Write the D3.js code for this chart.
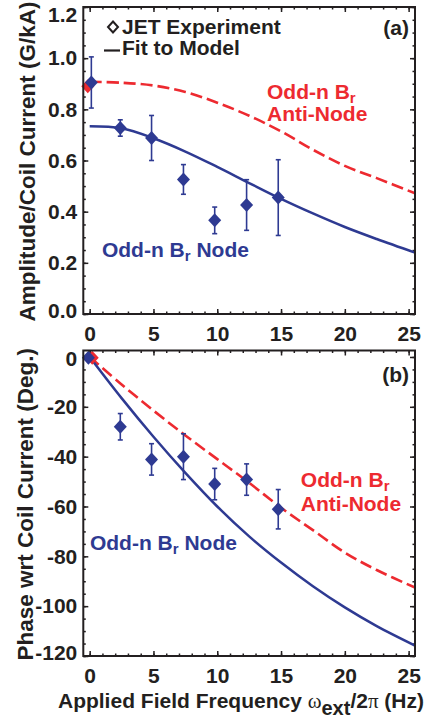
<!DOCTYPE html>
<html>
<head>
<meta charset="utf-8">
<script src="https://cdn.jsdelivr.net/npm/d3@7"></script>
<style>
  html, body { margin: 0; padding: 0; background: #fff; }
  svg text { font-family: "Liberation Sans", Arial, Helvetica, sans-serif; font-weight: bold; fill: #231f20; }
</style>
</head>
<body>
<svg id="chart" width="430" height="718"></svg>
<script>
var ampFreq = [0.13, 2.4, 4.85, 7.35, 9.8, 12.3, 14.78];
var ampNode = [0.905, 0.727, 0.688, 0.526, 0.366, 0.426, 0.455];
var ampNodeErr = [0.100, 0.032, 0.088, 0.058, 0.052, 0.099, 0.148];
var ampAntiFreq = [-0.15];
var ampAnti = [0.89];

var phaseFreq = [-0.1, 2.4, 4.85, 7.35, 9.8, 12.3, 14.78];
var phaseNode = [-0.3, -28.0, -41.1, -40.0, -51.0, -49.2, -61.1];
var phaseNodeErr = [0, 5.3, 6.3, 9.2, 6.3, 6.3, 7.9];
var phaseAntiFreq = [0.2];
var phaseAnti = [-0.3];

// model fits
var fitFreq = [0, 2.5, 5, 7.5, 10, 12.5, 15, 17.5, 20, 22.5, 25.5];
var ampNodeFit = [0.734, 0.726, 0.687, 0.635, 0.575, 0.512, 0.450, 0.393, 0.340, 0.293, 0.240];
var ampAntiFit = [0.908, 0.904, 0.893, 0.868, 0.826, 0.775, 0.714, 0.642, 0.579, 0.531, 0.472];
var phaseNodeFit = [0, -16.5, -32, -46.5, -60, -72, -82.5, -92, -100.5, -108, -115.8];
var phaseAntiFit = [0, -11, -21.5, -31.5, -41, -50.5, -60.5, -69.5, -78.5, -85.5, -92.5];

var xTicks = [0, 5, 10, 15, 20, 25];
var ampTicks = [0, 0.2, 0.4, 0.6, 0.8, 1.0, 1.2];
var phaseTicks = [0, -20, -40, -60, -80, -100, -120];

var BLUE = '#2e3a92',
    RED = '#ed2a30',
    INK = '#231f20';

var svg = d3.select('#chart');

var x = d3.scaleLinear().domain([-0.5, 25.5]).range([83.3, 415]);
var yAmp = d3.scaleLinear().domain([0, 1.2]).range([314, 7]);
var yPhase = d3.scaleLinear().domain([-120, 2.6]).range([656, 350.5]);

function diamond(hw, hh) {
  return `M0,${-hh}L${hw},0L0,${hh}L${-hw},0Z`;
}

function label(g, px, py, color, parts, anchor, size) {
  var t = g.append('text')
    .attr('x', px)
    .attr('y', py)
    .attr('text-anchor', anchor || 'start')
    .style('font-size', size || '21px')
    .style('fill', color);
  parts.forEach(function (p) {
    var span = t.append('tspan').text(p.t);
    if (p.sub) span.attr('dy', p.sub).style('font-size', p.size || '15px');
    if (p.up) span.attr('dy', -p.up).style('font-size', p.size || '21px');
    if (p.serif) span.style('font-family', '"Liberation Serif", "DejaVu Serif", serif').style('font-weight', 'normal');
  });
  return t;
}

function drawPanel(cfg) {
  var y = cfg.y,
      bottom = y.range()[0],
      top = y.range()[1],
      left = x.range()[0],
      right = x.range()[1],
      g = svg.append('g');

  // minor ticks on all four sides
  var minorX = d3.range(0, 25.01, 1),
      minorY = cfg.minor;
  g.append('g').attr('transform', `translate(0,${bottom})`)
    .call(d3.axisBottom(x).tickValues(minorX).tickSize(-2.5).tickFormat(''));
  g.append('g').attr('transform', `translate(0,${top})`)
    .call(d3.axisTop(x).tickValues(minorX).tickSize(-2.5).tickFormat(''));
  g.append('g').attr('transform', `translate(${left},0)`)
    .call(d3.axisLeft(y).tickValues(minorY).tickSize(-2.5).tickFormat(''));
  g.append('g').attr('transform', `translate(${right},0)`)
    .call(d3.axisRight(y).tickValues(minorY).tickSize(-2.5).tickFormat(''));

  // major ticks + labels
  g.append('g').attr('transform', `translate(0,${bottom})`)
    .call(d3.axisBottom(x).tickValues(xTicks).tickSize(-5).tickPadding(12).tickFormat(d => String(d)));
  g.append('g').attr('transform', `translate(0,${top})`)
    .call(d3.axisTop(x).tickValues(xTicks).tickSize(-5).tickFormat(''));
  var yAxis = g.append('g').attr('transform', `translate(${left},0)`)
    .call(d3.axisLeft(y).tickValues(cfg.ticks).tickSize(-5).tickPadding(6).tickFormat(cfg.fmt));
  g.append('g').attr('transform', `translate(${right},0)`)
    .call(d3.axisRight(y).tickValues(cfg.ticks).tickSize(-5).tickFormat(''));

  // keep edge labels inside the frame height
  yAxis.selectAll('.tick text').attr('y', function (d) {
    var ty = y(d);
    return Math.min(Math.max(ty, top + 8), bottom - 3) - ty;
  });

  g.selectAll('.domain').remove();
  g.selectAll('.tick line').attr('stroke', INK).attr('stroke-width', 1.5);
  g.selectAll('.tick text').style('font-size', '21px').style('fill', INK)
    .attr('font-family', null).attr('font-size', null);

  // curves
  var line = d3.line()
    .x((d, i) => x(fitFreq[i]))
    .y(d => y(d))
    .curve(d3.curveCatmullRom.alpha(0.5));
  g.append('path')
    .attr('d', line(cfg.antiFit))
    .attr('fill', 'none')
    .attr('stroke', RED)
    .attr('stroke-width', 2.6)
    .attr('stroke-dasharray', '12,5');
  g.append('path')
    .attr('d', line(cfg.nodeFit))
    .attr('fill', 'none')
    .attr('stroke', BLUE)
    .attr('stroke-width', 2.5);

  // anti-node point at zero frequency
  g.selectAll('path.anti-pt').data(cfg.anti).enter().append('path')
    .classed('anti-pt', true)
    .attr('d', diamond(6.5, 7))
    .attr('transform', (d, i) => `translate(${x(cfg.antiFreq[i])},${y(d)})`)
    .attr('fill', RED);

  // error bars
  var bars = g.selectAll('g.err').data(cfg.node).enter().append('g')
    .classed('err', true)
    .attr('stroke', BLUE)
    .attr('stroke-width', 1.6);
  bars.append('line')
    .attr('x1', (d, i) => x(cfg.freq[i]))
    .attr('x2', (d, i) => x(cfg.freq[i]))
    .attr('y1', (d, i) => y(d - cfg.err[i]))
    .attr('y2', (d, i) => y(d + cfg.err[i]));
  [-1, 1].forEach(function (s) {
    bars.filter((d, i) => cfg.err[i] > 0).append('line')
      .attr('x1', function (d) { var i = cfg.node.indexOf(d); return x(cfg.freq[i]) - 2.5; })
      .attr('x2', function (d) { var i = cfg.node.indexOf(d); return x(cfg.freq[i]) + 2.5; })
      .attr('y1', function (d) { var i = cfg.node.indexOf(d); return y(d + s * cfg.err[i]); })
      .attr('y2', function (d) { var i = cfg.node.indexOf(d); return y(d + s * cfg.err[i]); });
  });

  g.selectAll('path.node-pt').data(cfg.node).enter().append('path')
    .classed('node-pt', true)
    .attr('d', diamond(6.5, 7))
    .attr('transform', (d, i) => `translate(${x(cfg.freq[i])},${y(d)})`)
    .attr('fill', BLUE);

  // frame
  g.append('rect')
    .attr('x', left)
    .attr('y', top)
    .attr('width', right - left)
    .attr('height', bottom - top)
    .attr('fill', 'none')
    .attr('stroke', INK)
    .attr('stroke-width', 2);

  // annotations
  label(g, x(cfg.antiLbl[0]), y(cfg.antiLbl[1]), RED,
    [{t: 'Odd-n B'}, {t: 'r', sub: 4}]);
  label(g, x(cfg.antiLbl[0]), y(cfg.antiLbl[2]), RED, [{t: 'Anti-Node'}]);
  label(g, x(cfg.nodeLbl[0]), y(cfg.nodeLbl[1]), BLUE,
    [{t: 'Odd-n B'}, {t: 'r', sub: 4}, {t: ' Node', up: 4}]);
  label(g, right - 6, top + cfg.tagDy, INK, [{t: cfg.tag}], 'end');

  // y title
  g.append('text')
    .attr('transform', `translate(${cfg.titleX},${(top + bottom) / 2 + 1}) rotate(-90)`)
    .attr('text-anchor', 'middle')
    .style('font-size', '22.5px')
    .text(cfg.title);
  return g;
}

var topPanel = drawPanel({
  y: yAmp,
  ticks: ampTicks,
  minor: d3.range(0, 1.2001, 0.05),
  fmt: d => d.toFixed(1),
  freq: ampFreq, node: ampNode, err: ampNodeErr,
  antiFreq: ampAntiFreq, anti: ampAnti,
  nodeFit: ampNodeFit, antiFit: ampAntiFit,
  antiLbl: [13.9, 0.839, 0.756],
  nodeLbl: [0.96, 0.224],
  tag: '(a)', tagDy: 28,
  title: 'Amplitude/Coil Current (G/kA)', titleX: 35
});

drawPanel({
  y: yPhase,
  ticks: phaseTicks,
  minor: d3.range(-120, 0.01, 5),
  fmt: d => String(d),
  freq: phaseFreq, node: phaseNode, err: phaseNodeErr,
  antiFreq: phaseAntiFreq, anti: phaseAnti,
  nodeFit: phaseNodeFit, antiFit: phaseAntiFit,
  antiLbl: [16.55, -52.0, -61.7],
  nodeLbl: [0.02, -77.5],
  tag: '(b)', tagDy: 31,
  title: 'Phase wrt Coil Current (Deg.)', titleX: 33
});

// legend
var legend = topPanel.append('g').classed('legend', true);
legend.append('path')
  .attr('d', diamond(5, 5.5))
  .attr('transform', 'translate(113,27)')
  .attr('fill', 'none')
  .attr('stroke', INK)
  .attr('stroke-width', 2);
legend.append('line')
  .attr('x1', 104).attr('x2', 120)
  .attr('y1', 50.5).attr('y2', 50.5)
  .attr('stroke', INK)
  .attr('stroke-width', 2.2);
label(legend, 122, 34, INK, [{t: 'JET Experiment'}]);
label(legend, 122, 55, INK, [{t: 'Fit to Model'}]);

// x title
label(svg, 241, 708, INK, [
  {t: 'Applied Field Frequency '},
  {t: '\u03c9', serif: true},
  {t: 'ext', sub: 7, size: '20px'},
  {t: '/2', up: 7},
  {t: '\u03c0', serif: true},
  {t: ' (Hz)'}
], 'middle');
</script>
</body>
</html>
